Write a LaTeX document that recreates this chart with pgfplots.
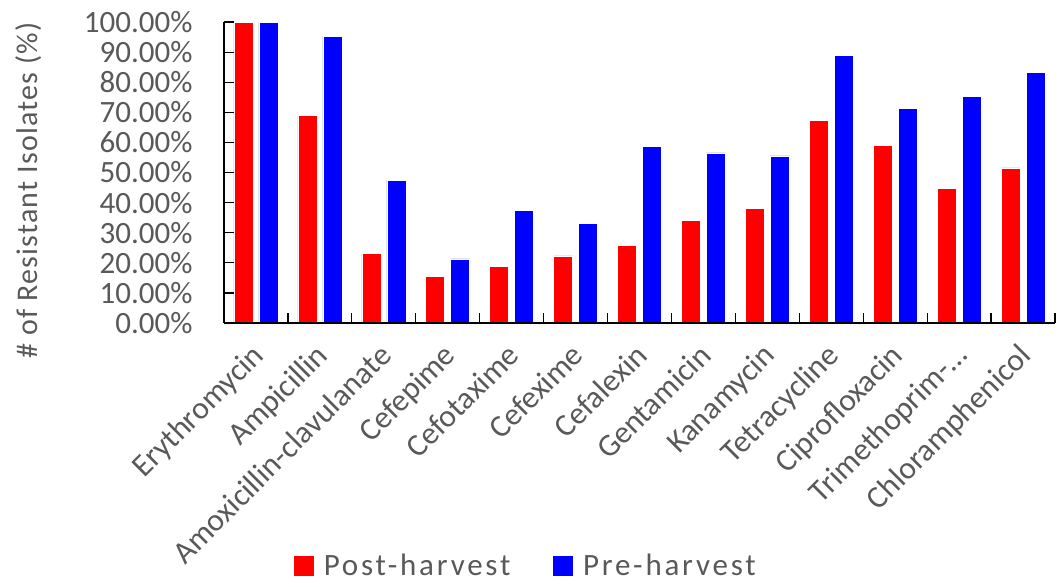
\documentclass[border=0pt]{standalone}
\usepackage{pgfplots}
\pgfplotsset{compat=1.18}
\usepackage{fontspec}
\setmainfont{Carlito}
\newfontfamily\ylabfont[LetterSpace=4]{Carlito}
\newfontfamily\legfont[LetterSpace=9]{Carlito}
\definecolor{txt}{HTML}{595959}
\begin{document}
\begin{tikzpicture}
\begin{axis}[
 at={(0,0)}, anchor=south west,
 scale only axis, width=831bp, height=301bp,
 xmin=-0.5, xmax=12.5, ymin=0, ymax=100,
 ybar=6bp, bar width=19bp,
 axis on top,
 axis lines*=left,
 axis line style={-, black, line width=1.2pt},
 tick align=inside,
 major tick length=10bp, minor tick length=10bp,
 xtick={0,...,12},
 xticklabels={Erythromycin,Ampicillin,Amoxicillin-clavulanate,Cefepime,Cefotaxime,Cefexime,Cefalexin,Gentamicin,Kanamycin,Tetracycline,Ciprofloxacin,Trimethoprim-\dots,Chloramphenicol},
 minor xtick={-0.5,0.5,...,12.5},
 major x tick style={draw=none},
 minor x tick style={black, line width=1.2pt},
 ytick={0,10,...,100},
 ytick style={black, line width=1.2pt},
 yticklabel={\pgfmathprintnumber[fixed,fixed zerofill,precision=2]{\tick}\%},
 /pgf/number format/assume math mode=true,
 tick label style={font=\fontsize{31bp}{37bp}\selectfont, text=txt},
 yticklabel style={xshift=-28bp},
 xticklabel style={xshift=-6bp, yshift=-14bp, rotate=45, anchor=north east, font=\fontsize{31.5bp}{37bp}\selectfont},
 ylabel={\# of Resistant Isolates (\%)},
 ylabel style={font=\ylabfont\fontsize{30bp}{36bp}\selectfont, text=txt,
   at={(axis description cs:-0.2347,0.44)}, anchor=center},
 legend style={at={(0.3628,-0.806)}, anchor=center, draw=none, fill=none,
   font=\legfont\fontsize{31bp}{37bp}\selectfont, text=txt,
   /tikz/every odd column/.append style={column sep=7bp},
   /tikz/every even column/.append style={column sep=40bp}},
 legend columns=2,
 legend image code/.code={\fill[#1] (0bp,-10.5bp) rectangle (21bp,10.5bp);},
]
\addplot[fill=red, draw=white, line width=0.6pt] coordinates {
(0,100) (1,69.0) (2,23.0) (3,15.6) (4,18.9) (5,22.3) (6,25.7) (7,34.0) (8,38.1) (9,67.3) (10,59.0) (11,44.7) (12,51.5)};
\addplot[fill=blue, draw=white, line width=0.6pt] coordinates {
(0,100) (1,95.3) (2,47.4) (3,21.3) (4,37.5) (5,33.1) (6,58.7) (7,56.5) (8,55.5) (9,88.9) (10,71.3) (11,75.4) (12,83.3)};
\legend{Post-harvest,Pre-harvest}
\end{axis}
\pgfresetboundingbox
\useasboundingbox (-224bp,-264bp) rectangle (835bp,323bp);
\end{tikzpicture}
\end{document}
